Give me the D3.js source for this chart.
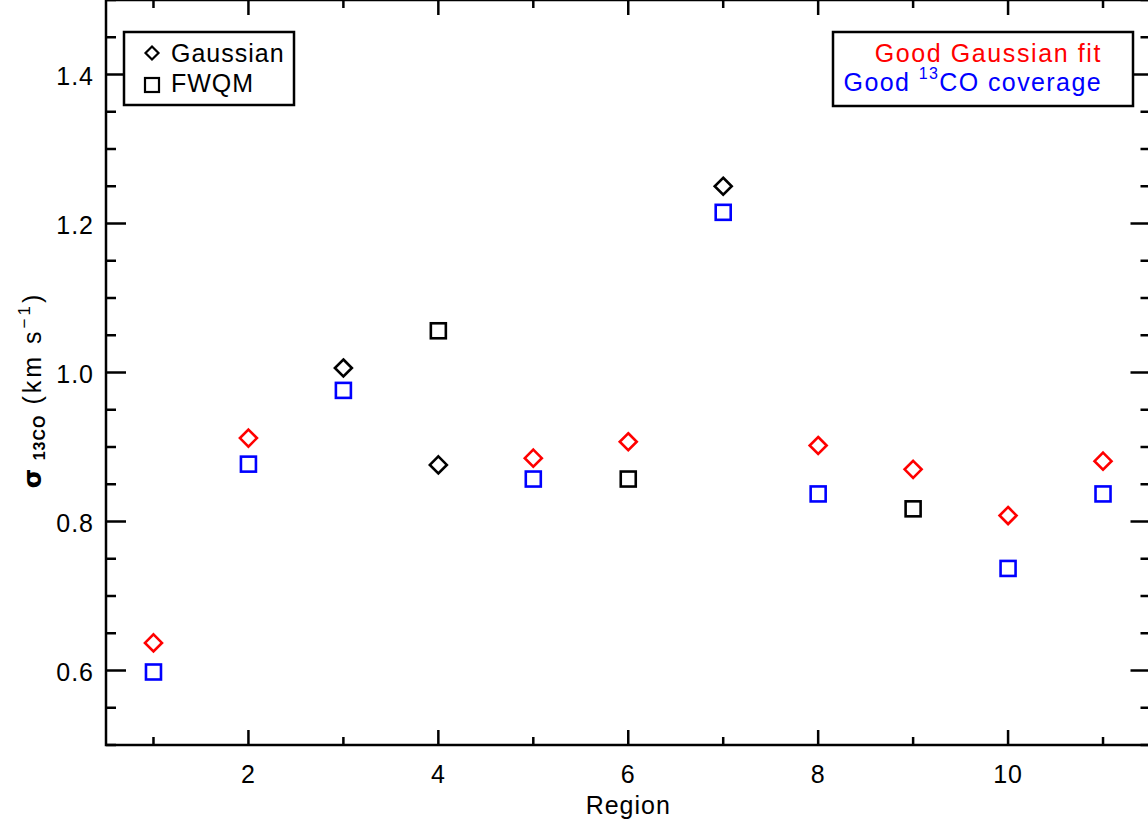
<!DOCTYPE html>
<html><head><meta charset="utf-8">
<script src="https://cdn.jsdelivr.net/npm/d3@7"></script>
<style>
html,body{margin:0;padding:0;background:#fff;}
svg{display:block;}
text{font-family:"Liberation Sans",Arial,sans-serif;}
</style></head>
<body>
<script>
const regions = [1,2,3,4,5,6,7,8,9,10,11];
const gaussianValues = [0.637,0.912,1.006,0.876,0.885,0.907,1.250,0.902,0.870,0.808,0.881];
const fwqmValues     = [0.598,0.877,0.976,1.056,0.857,0.857,1.215,0.837,0.817,0.737,0.837];
const goodGaussianFit = [true,true,false,false,true,true,false,true,true,true,true];
const goodCoverage    = [true,true,true,false,true,false,true,true,false,true,true];
const xMajorTicks = [2,4,6,8,10];
const xMinorTicks = [1,3,5,7,9,11];
const yMajorTicks = [0.6,0.8,1.0,1.2,1.4];
const yMinorTicks = d3.range(0.5,1.5001,0.05).map(v=>+v.toFixed(2));

const W=1148,H=827;
const L=106,R=1150.5,T=0,B=745;
const svg=d3.select("body").append("svg").attr("width",W).attr("height",H);
const x=d3.scaleLinear().domain([0.5,11.5]).range([L,R]);
const y=d3.scaleLinear().domain([0.5,1.5]).range([B,T]);

const ax=svg.append("g").attr("stroke","#000").attr("stroke-width",2.5);
ax.append("rect").attr("x",L).attr("y",T).attr("width",R-L).attr("height",B-T).attr("fill","none");

function xt(vals,len){
  vals.forEach(v=>{
    ax.append("line").attr("x1",x(v)).attr("x2",x(v)).attr("y1",B).attr("y2",B-len);
    ax.append("line").attr("x1",x(v)).attr("x2",x(v)).attr("y1",T).attr("y2",T+len);
  });
}
xt(xMajorTicks,15); xt(xMinorTicks,8);
function yt(vals,len){
  vals.forEach(v=>{
    ax.append("line").attr("y1",y(v)).attr("y2",y(v)).attr("x1",L).attr("x2",L+len);
    ax.append("line").attr("y1",y(v)).attr("y2",y(v)).attr("x1",R).attr("x2",R-len);
  });
}
yt(yMajorTicks,20); yt(yMinorTicks.filter(v=>!yMajorTicks.some(m=>Math.abs(m-v)<1e-6)),10);

svg.append("g").selectAll("text").data(xMajorTicks).join("text")
  .attr("x",d=>x(d)).attr("y",B+38).attr("text-anchor","middle").attr("font-size",25).attr("letter-spacing",1).text(d=>d);
svg.append("g").selectAll("text").data(yMajorTicks).join("text")
  .attr("x",L-12).attr("y",d=>y(d)+10).attr("text-anchor","end").attr("font-size",25).attr("letter-spacing",1).text(d=>d.toFixed(1));

svg.append("text").attr("x",x(6)).attr("y",814).attr("text-anchor","middle").attr("font-size",25).attr("letter-spacing",1).text("Region");
const yl=svg.append("text").attr("transform","translate(41,390) rotate(-90)")
  .attr("text-anchor","middle").attr("font-size",25).attr("letter-spacing",3);
yl.append("tspan").attr("font-weight","bold").attr("font-family","DejaVu Sans").text("σ");
yl.append("tspan").attr("font-size",16).attr("dy",4).attr("font-weight","bold").attr("letter-spacing",1).text(" 13CO");
yl.append("tspan").attr("dy",-4).text("  (km  s");
yl.append("tspan").attr("font-size",17).attr("dy",-11).text("−1");
yl.append("tspan").attr("dy",11).text(")");

const dsz=8.5, ssz=7.5;
const diamond=(cx,cy)=>`M${cx},${cy-dsz}L${cx+dsz},${cy}L${cx},${cy+dsz}L${cx-dsz},${cy}Z`;
svg.append("g").selectAll("path").data(regions).join("path")
  .attr("d",(d,i)=>diamond(x(d),y(gaussianValues[i])))
  .attr("fill","none").attr("stroke-width",2.6)
  .attr("stroke",(d,i)=>goodGaussianFit[i]?"#ff0000":"#000");
svg.append("g").selectAll("rect").data(regions).join("rect")
  .attr("x",d=>x(d)-ssz).attr("y",(d,i)=>y(fwqmValues[i])-ssz)
  .attr("width",2*ssz).attr("height",2*ssz)
  .attr("fill","none").attr("stroke-width",2.6)
  .attr("stroke",(d,i)=>goodCoverage[i]?"#0000ff":"#000");

const lg=svg.append("g");
lg.append("rect").attr("x",124).attr("y",32).attr("width",170).attr("height",73).attr("fill","#fff").attr("stroke","#000").attr("stroke-width",2.5);
const ld=6.5;
lg.append("path").attr("d",`M152,${53-ld}L${152+ld},53L152,${53+ld}L${152-ld},53Z`).attr("fill","none").attr("stroke","#000").attr("stroke-width",2.2);
lg.append("rect").attr("x",145).attr("y",78).attr("width",14).attr("height",14).attr("fill","none").attr("stroke","#000").attr("stroke-width",2.2);
lg.append("text").attr("x",171).attr("y",62).attr("font-size",25).attr("letter-spacing",1).text("Gaussian");
lg.append("text").attr("x",171).attr("y",92).attr("font-size",25).attr("letter-spacing",1).text("FWQM");

const rg=svg.append("g");
rg.append("rect").attr("x",833).attr("y",32).attr("width",300).attr("height",74).attr("fill","#fff").attr("stroke","#000").attr("stroke-width",2.5);
rg.append("text").attr("x",1102).attr("y",62).attr("text-anchor","end").attr("font-size",25).attr("fill","#ff0000").attr("letter-spacing",1.6).text("Good Gaussian fit");
const t2=rg.append("text").attr("x",1102).attr("y",91).attr("text-anchor","end").attr("font-size",25).attr("fill","#0000ff").attr("letter-spacing",1.4);
t2.append("tspan").text("Good  ");
t2.append("tspan").attr("font-size",16).attr("dy",-12).text("13");
t2.append("tspan").attr("dy",12).text("CO coverage");
</script>
</body></html>
